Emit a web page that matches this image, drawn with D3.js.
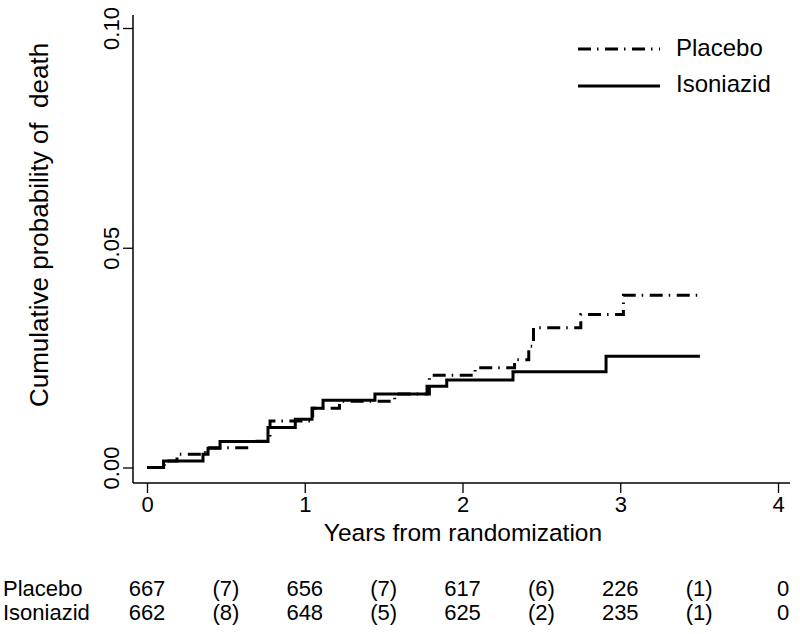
<!DOCTYPE html>
<html>
<head>
<meta charset="utf-8">
<script src="https://cdn.jsdelivr.net/npm/d3@7"></script>
<style>
  html, body { margin: 0; padding: 0; background: #fff; }
  svg { display: block; }
  text { font-family: "Liberation Sans", Arial, Helvetica, sans-serif; fill: #000; }
</style>
</head>
<body>
<svg id="chart" width="800" height="634"></svg>
<script>
// ---- data ----
const seriesNames = ["Placebo", "Isoniazid"];
const placeboTimes = [0, 0.11, 0.19, 0.37, 0.65, 0.78, 1.05, 1.22, 1.57, 1.79, 2.08, 2.33, 2.42, 2.45, 2.75, 3.02, 3.505];
const placeboProb  = [0, 0.0015, 0.0030, 0.0045, 0.0060, 0.0106, 0.0135, 0.0151, 0.0167, 0.0210, 0.0227, 0.0245, 0.0276, 0.0318, 0.0348, 0.0392, 0.0392];
const isoTimes = [0, 0.105, 0.355, 0.387, 0.463, 0.767, 0.94, 1.046, 1.116, 1.445, 1.775, 1.90, 2.32, 2.91, 3.505];
const isoProb  = [0, 0.0015, 0.0030, 0.0044, 0.0059, 0.0091, 0.0110, 0.0135, 0.0153, 0.0167, 0.0185, 0.0199, 0.0218, 0.0253, 0.0253];
const xTicks = [0, 1, 2, 3, 4];
const yTicks = [0, 0.05, 0.10];
const riskYears = [0, 1, 2, 3, 4];
const eventYears = [0.5, 1.5, 2.5, 3.5];
const placeboAtRisk = [667, 656, 617, 226, 0];
const placeboEvents = [7, 7, 6, 1];
const isoAtRisk = [662, 648, 625, 235, 0];
const isoEvents = [8, 5, 2, 1];
const xTitle = "Years from randomization";
const yTitle = "Cumulative probability of\u00a0 death";

// ---- layout ----
const svg = d3.select("#chart");
const x = d3.scaleLinear().domain([0, 4]).range([147, 778]);
const y = d3.scaleLinear().domain([0, 0.1]).range([467.5, 28]);
const axisLeftX = 133, axisBottomY = 483;

// axis lines (L-frame)
svg.append("line").attr("x1", axisLeftX).attr("x2", axisLeftX).attr("y1", 15).attr("y2", axisBottomY)
  .attr("stroke", "#000").attr("stroke-width", 1.5);
svg.append("line").attr("x1", axisLeftX).attr("x2", 790).attr("y1", axisBottomY).attr("y2", axisBottomY)
  .attr("stroke", "#000").attr("stroke-width", 1.5);

// y axis
const gy = svg.append("g").attr("transform", `translate(${axisLeftX},0)`)
  .call(d3.axisLeft(y).tickValues(yTicks).tickFormat(d3.format(".2f")).tickSize(10).tickPadding(3));
gy.select(".domain").remove();
gy.selectAll(".tick line").attr("stroke", "#000").attr("stroke-width", 1.3);
gy.selectAll(".tick text")
  .attr("x", null).attr("dy", null)
  .attr("transform", "translate(-14,0) rotate(-90)")
  .attr("text-anchor", "middle")
  .attr("font-size", 22)
  .style("font-family", '"Liberation Sans", Arial, sans-serif');

// x axis
const gx = svg.append("g").attr("transform", `translate(0,${axisBottomY})`)
  .call(d3.axisBottom(x).tickValues(xTicks).tickFormat(d3.format("d")).tickSize(10).tickPadding(4));
gx.select(".domain").remove();
gx.selectAll(".tick line").attr("stroke", "#000").attr("stroke-width", 1.3);
gx.selectAll(".tick text")
  .attr("y", null).attr("dy", null)
  .attr("transform", "translate(0,29)")
  .attr("font-size", 22)
  .style("font-family", '"Liberation Sans", Arial, sans-serif');

// axis titles
svg.append("text").attr("x", 463).attr("y", 541).attr("text-anchor", "middle")
  .attr("font-size", 24.5).text(xTitle);
svg.append("text").attr("transform", "translate(48,225) rotate(-90)").attr("text-anchor", "middle")
  .attr("font-size", 26).text(yTitle);

// curves
const line = d3.line().x(d => x(d[0])).y(d => y(d[1])).curve(d3.curveStepAfter);
const placeboData = placeboTimes.map((t, i) => [t, placeboProb[i]]);
const isoData = isoTimes.map((t, i) => [t, isoProb[i]]);

svg.append("path").datum(isoData).attr("d", line)
  .attr("fill", "none").attr("stroke", "#000").attr("stroke-width", 3);
svg.append("path").datum(placeboData).attr("d", line)
  .attr("fill", "none").attr("stroke", "#000").attr("stroke-width", 3)
  .attr("stroke-dasharray", "13,6,1.5,6.5");

// legend
const legend = [
  { name: seriesNames[0], dash: "13,6,1.5,6.5", ly: 49, ty: 56 },
  { name: seriesNames[1], dash: null, ly: 86, ty: 92 }
];
legend.forEach(l => {
  const ln = svg.append("line").attr("x1", 578).attr("x2", 660).attr("y1", l.ly).attr("y2", l.ly)
    .attr("stroke", "#000").attr("stroke-width", 3);
  if (l.dash) ln.attr("stroke-dasharray", l.dash);
  svg.append("text").attr("x", 676).attr("y", l.ty).attr("font-size", 24).text(l.name);
});

// number-at-risk table
const rows = [
  { name: seriesNames[0], atRisk: placeboAtRisk, events: placeboEvents, yb: 596 },
  { name: seriesNames[1], atRisk: isoAtRisk, events: isoEvents, yb: 620 }
];
rows.forEach(r => {
  svg.append("text").attr("x", 3).attr("y", r.yb).attr("font-size", 22).text(r.name);
  r.atRisk.forEach((v, i) => {
    svg.append("text").attr("x", x(riskYears[i]) + (i === 4 ? 5 : 0)).attr("y", r.yb)
      .attr("text-anchor", "middle").attr("font-size", 22).text(v);
  });
  r.events.forEach((v, i) => {
    svg.append("text").attr("x", x(eventYears[i])).attr("y", r.yb)
      .attr("text-anchor", "middle").attr("font-size", 22).text(`(${v})`);
  });
});
</script>
</body>
</html>
